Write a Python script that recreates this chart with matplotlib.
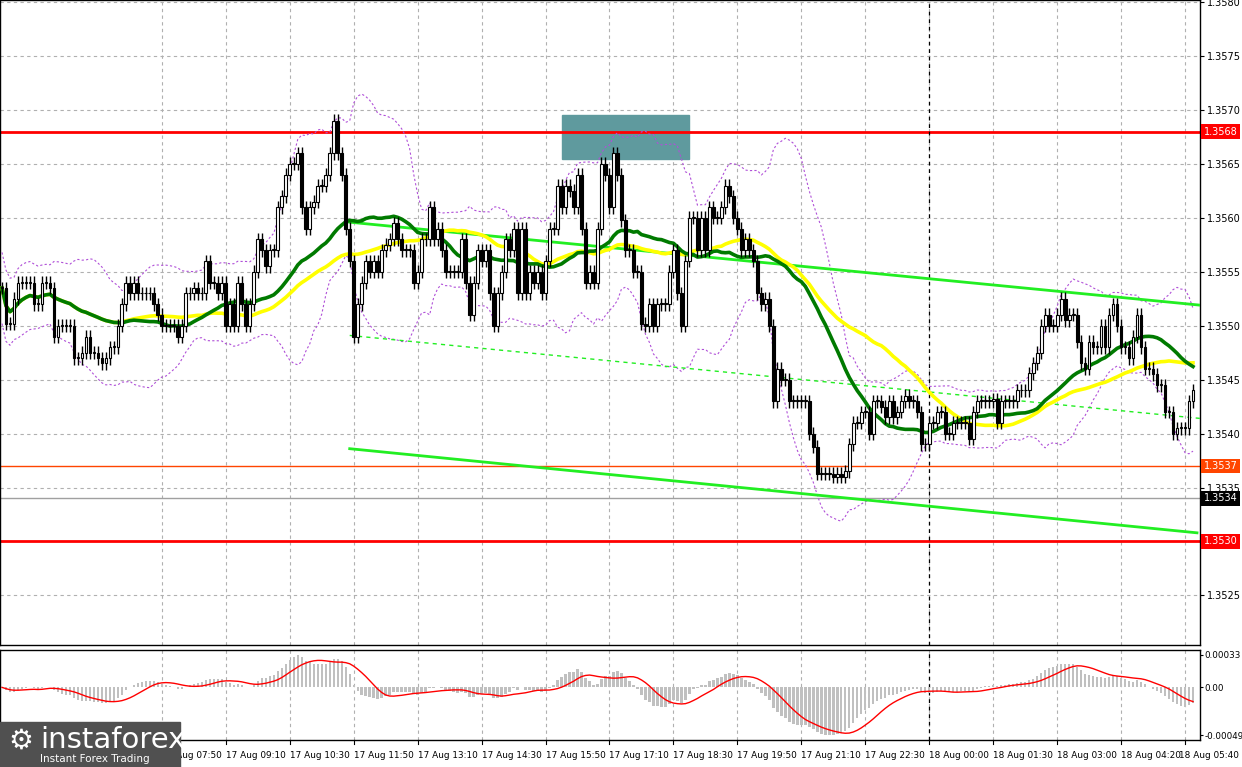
import numpy as np
import pandas as pd
import matplotlib
matplotlib.use("Agg")
import matplotlib.pyplot as plt
from matplotlib.patches import Rectangle
import matplotlib.transforms as mtransforms

# closes in pips above 1.3500, 5-minute bars
closes_pips = [
 53.5,50.2,50.2,52.5,54,54,54,54,52,52,54,54,53.5,49,50,50,50,50,47,47,
 47.5,49,47.5,47.5,47,46.5,47,48,48,50,52,54,53,54,53,53,53,53,52,51,
 50,50,50,50,49,50,53,53,53.5,53,53,56,54,54,53,54,50,52,50,54,
 52,50,52,55,58,57,55.5,57,57,61,62,64,65,65,66,61,59,61,61.5,63,
 63,64,66,69,66,64,59,56,49,52,54,56,55,56,55,57,57.5,58,59.5,58,
 57,57,57,54,55,58,58,61,58,59,57,55,55,55,55,58,54,51,54,57,
 56,57,53,50,53,55,58,57,59,53,59,53,55,54,55,53,56,59,59,63,
 61,63,62.5,61,64,59,54,55,54,59,65,64,61,66,64,59.8,57,57,55,55,
 50.2,50,52,50,52,52,52,55,57,53,50,56,60,60,57,60,57,61,60,60,
 61,63,62,60,59,57,58,57,56,53,52,52.5,50,43,46,45,45,43,43,43,
 43,43,40,38.8,36.3,36.3,36.3,36.3,36,36.3,36,36.5,39,41,41,42,42,40,43,43,
 42.5,41.5,43,41.5,42,43,43.5,43,43,42,39,39,41,41,42,42,40,40,41,41,
 41,41,39.5,42,43,43,43,43,43.2,41,43,43,43,43,44,44,44,45.6,46.5,47.5,
 50,51,50,50,51,52.5,50.5,51,51,48.5,46.5,46,48.5,48,48,50,48,51,52,50,
 48,48,47,49,51,48,46,46,45.5,44.5,44.5,42,42,40,40.5,40.5,40.5,43,44]

time_labels = ["17 Aug 07:50","17 Aug 09:10","17 Aug 10:30","17 Aug 11:50","17 Aug 13:10",
               "17 Aug 14:30","17 Aug 15:50","17 Aug 17:10","17 Aug 18:30","17 Aug 19:50",
               "17 Aug 21:10","17 Aug 22:30","18 Aug 00:00","18 Aug 01:30","18 Aug 03:00",
               "18 Aug 04:20","18 Aug 05:40"]
label_bars = [40 + 16*k for k in range(len(time_labels))]
price_ticks = [1.3525,1.3530,1.3535,1.3540,1.3545,1.3550,1.3555,1.3560,1.3565,1.3570,1.3575,1.3580]
levels = {1.3568: "#FF0000", 1.3537: "#FF4500", 1.3530: "#FF0000"}
bid_level = 1.3534
# trend lines: (bar0, price0, bar1, price1)
upper_line = (87, 1.35596, 300, 1.35519)
mid_line = (87, 1.35491, 300, 1.35414)
lower_line = (87, 1.35386, 299, 1.35308)
zone = (140, 172, 1.35655, 1.35695)
midnight_bar = 232

close = 1.35 + np.array(closes_pips) / 10000.0
n = len(close)
idx = np.arange(n)
opn = np.concatenate([[close[0]], close[:-1]])
hi = np.maximum(opn, close) + 0.00006
lo = np.minimum(opn, close) - 0.00006
s = pd.Series(close)
ma_g = s.rolling(30, min_periods=1).mean()
ma_y = s.rolling(50, min_periods=1).mean()
bm = s.rolling(20, min_periods=1).mean()
bs = s.rolling(20, min_periods=2).std(ddof=0).bfill()
bu, bl = bm + 2*bs, bm - 2*bs
macd = s.ewm(span=12, adjust=False).mean() - s.ewm(span=26, adjust=False).mean()
sig = macd.rolling(9, min_periods=1).mean()

W, H = 1242, 767
fig = plt.figure(figsize=(W/100, H/100), dpi=100)
ax = fig.add_axes([0, 1-645/H, 1200/W, 645/H])
ax2 = fig.add_axes([0, 1-740/H, 1200/W, 90/H])
xl = (-0.5, 299.75)
for a in (ax, ax2):
    a.set_xlim(*xl)
    for sp in a.spines.values():
        sp.set_color("black"); sp.set_linewidth(1)
    a.set_xticks(label_bars)
    a.xaxis.grid(True, color="#B0B0B0", ls=(0, (3, 3)), lw=0.8)
    a.tick_params(axis="x", length=0, labelbottom=False)
    a.yaxis.tick_right()
    a.tick_params(axis="y", labelsize=7, length=3, pad=2)
    a.set_axisbelow(True)
ax2.tick_params(axis="y", labelsize=6.3, length=2, pad=1)

ylo, yhi = 1.35204, 1.35802
ax.set_ylim(ylo, yhi)
ax.set_yticks(price_ticks)
ax.set_yticklabels(["" if abs(p-1.3530) < 1e-6 else f"{p:.4f}" for p in price_ticks])
ax.yaxis.grid(True, color="#B0B0B0", ls=(0, (3, 3)), lw=0.8)

ax.add_patch(Rectangle((zone[0], zone[2]), zone[1]-zone[0], zone[3]-zone[2], color="#5F9A9E", zorder=1))
for p, c in levels.items():
    ax.axhline(p, color=c, lw=2 if c == "#FF0000" else 1, zorder=2)
ax.axhline(bid_level, color="#A0A0A0", lw=1, zorder=2)
ax.axvline(midnight_bar, color="black", ls=(0, (3, 3)), lw=0.9)
ax2.axvline(midnight_bar, color="black", ls=(0, (3, 3)), lw=0.9)

ax.plot(idx, bu, color="#B050D8", ls=(0, (2, 2)), lw=0.8, zorder=3)
ax.plot(idx, bl, color="#B050D8", ls=(0, (2, 2)), lw=0.8, zorder=3)
for ln in (upper_line, lower_line):
    ax.plot([ln[0], ln[2]], [ln[1], ln[3]], color="#22EE22", lw=2, zorder=3)
ax.plot([mid_line[0], mid_line[2]], [mid_line[1], mid_line[3]], color="#22EE22", lw=1, ls=(0, (3, 3)), zorder=3)
ax.plot(idx, ma_y, color="#FFFF00", lw=2.6, zorder=4)
ax.plot(idx, ma_g, color="#007A00", lw=2.6, zorder=5)

ax.vlines(idx, lo, hi, color="black", lw=1, zorder=6)
up = close >= opn
bw = 0.7
for i in range(n):
    b0, b1 = min(opn[i], close[i]), max(opn[i], close[i])
    hgt = max(b1 - b0, 0.000008)
    ax.add_patch(Rectangle((i - bw/2, b0), bw, hgt, facecolor="white" if up[i] else "black",
                           edgecolor="black", lw=0.8, zorder=7))

trans = mtransforms.blended_transform_factory(ax.transAxes, ax.transData)
for p, c in list(levels.items()) + [(bid_level, "black")]:
    ax.text(1.003, p, f"{p:.4f}", transform=trans, fontsize=7, color="white", va="center",
            ha="left", bbox=dict(boxstyle="square,pad=0.25", fc=c, ec="none"), clip_on=False, zorder=10)

mmax = float(max(macd.max(), sig.max()))
mmin = float(min(macd.min(), sig.min()))
pad = (mmax - mmin) * 0.06
ax2.set_ylim(mmin - pad, mmax + pad)
ax2.set_yticks([mmax, 0.0, mmin])
ax2.set_yticklabels([f"{mmax:.5f}", "0.00", f"{mmin:.5f}"])
ax2.bar(idx, macd, width=0.6, color="#C0C0C0", zorder=2)
ax2.plot(idx, sig, color="#FF0000", lw=1, zorder=3)

for k, (b, t) in enumerate(zip(label_bars, time_labels)):
    xf = (b - xl[0]) / (xl[1] - xl[0]) * 1200 / W
    if k == len(time_labels) - 1:
        fig.text(1239/W, 1-755/H, t, fontsize=6.4, ha="right", va="center")
    else:
        fig.text(xf, 1-755/H, t, fontsize=6.4, ha="left", va="center")
    fig.add_artist(plt.Line2D([xf, xf], [1-744/H, 1-740/H], color="black", lw=0.8))

fig.add_artist(Rectangle((0, 0), 180/W, 45/H, transform=fig.transFigure, color="#505050", zorder=20))
fig.text(8/W, 1-741/H, "⚙", fontsize=20, color="white", va="center", zorder=21)
fig.text(40/W, 1-740/H, "instaforex", fontsize=21, color="white", va="center", zorder=21)
fig.text(40/W, 1-759/H, "Instant Forex Trading", fontsize=7.5, color="white", va="center", zorder=21)

fig.savefig("out.png", dpi=100)
